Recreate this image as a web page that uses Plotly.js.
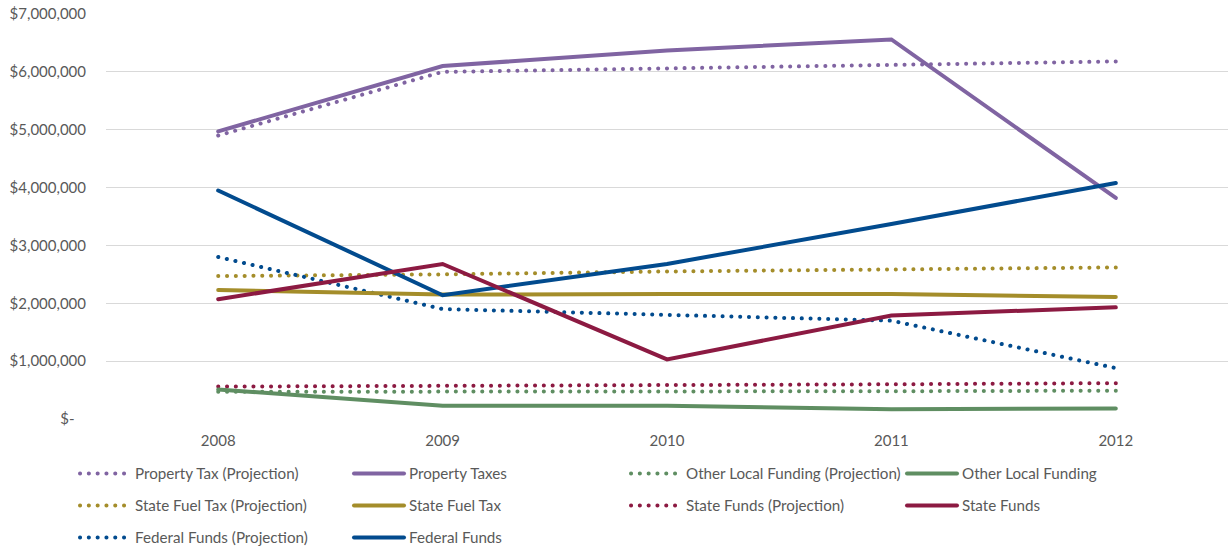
<!DOCTYPE html>
<html>
<head>
<meta charset="utf-8">
<script src="https://cdn.plot.ly/plotly-3.0.1.min.js"></script>
<style>
html,body{margin:0;padding:0;background:#fff;}
#chart{width:1228px;height:548px;}
.scatterlayer path, .infolayer path { stroke-linecap: round; }
</style>
</head>
<body>
<div id="chart"></div>
<script>
const years = ['2008', '2009', '2010', '2011', '2012'];

const propertyTaxProjection = [4900000, 6000000, 6060000, 6120000, 6180000];
const propertyTaxes = [4970000, 6100000, 6370000, 6560000, 3820000];
const otherLocalProjection = [470000, 470000, 480000, 480000, 490000];
const otherLocalFunding = [510000, 230000, 230000, 170000, 180000];
const stateFuelTaxProjection = [2470000, 2500000, 2550000, 2590000, 2620000];
const stateFuelTax = [2230000, 2150000, 2160000, 2160000, 2110000];
const stateFundsProjection = [560000, 570000, 590000, 600000, 620000];
const stateFunds = [2070000, 2680000, 1030000, 1790000, 1930000];
const federalFundsProjection = [2800000, 1900000, 1800000, 1700000, 880000];
const federalFunds = [3950000, 2140000, 2680000, 3370000, 4080000];

const yTickVals = [0, 1000000, 2000000, 3000000, 4000000, 5000000, 6000000, 7000000];
const yTickText = ['$-\u00a0\u00a0\u00a0', '$1,000,000', '$2,000,000', '$3,000,000', '$4,000,000', '$5,000,000', '$6,000,000', '$7,000,000'];

const purple = '#8064A2', green = '#5F8E62', gold = '#A48D2A', maroon = '#8C1A42', blue = '#024B8E';

function proj(name, y, color, legend) {
  return {type: 'scatter', mode: 'lines', name: name, x: years, y: y, legend: legend, legendgroup: name,
    line: {color: color, width: 4, dash: '0.1px,8.7px'}, hoverinfo: 'name+y'};
}
function solid(name, y, color, legend) {
  return {type: 'scatter', mode: 'lines', name: name, x: years, y: y, legend: legend, legendgroup: name,
    line: {color: color, width: 4}, hoverinfo: 'name+y'};
}

const data = [
  proj('Property Tax (Projection)', propertyTaxProjection, purple, 'legend'),
  proj('State Fuel Tax (Projection)', stateFuelTaxProjection, gold, 'legend'),
  proj('Federal Funds (Projection)', federalFundsProjection, blue, 'legend'),
  solid('Property Taxes', propertyTaxes, purple, 'legend2'),
  solid('State Fuel Tax', stateFuelTax, gold, 'legend2'),
  solid('Federal Funds', federalFunds, blue, 'legend2'),
  proj('Other Local Funding (Projection)', otherLocalProjection, green, 'legend3'),
  proj('State Funds (Projection)', stateFundsProjection, maroon, 'legend3'),
  solid('Other Local Funding', otherLocalFunding, green, 'legend4'),
  solid('State Funds', stateFunds, maroon, 'legend4')
];

const plotW = 1122, plotH = 405;
function px(v){ return (v - 106) / plotW; }
function py(v){ return (419 - v) / plotH; }
const legFont = {family: 'Lato, "Open Sans", sans-serif', size: 15.2, color: '#595959'};
function leg(xpx) {
  return {x: px(xpx), y: py(457), xanchor: 'left', yanchor: 'top', orientation: 'v',
    font: legFont, bgcolor: 'rgba(0,0,0,0)', borderwidth: 0, tracegroupgap: 9.3, itemwidth: 50, itemclick: false, itemdoubleclick: false};
}

const layout = {
  width: 1228, height: 548,
  margin: {l: 106, r: 0, t: 14, b: 129, autoexpand: false},
  paper_bgcolor: '#ffffff', plot_bgcolor: '#ffffff',
  font: {family: 'Lato, "Open Sans", sans-serif', size: 15, color: '#595959'},
  showlegend: true,
  xaxis: {type: 'category', range: [-0.5, 4.5], showgrid: false, zeroline: false, showline: false,
    ticks: '', tickfont: {size: 15, color: '#595959'}, ticklabelstandoff: 11, fixedrange: true, automargin: false},
  yaxis: {range: [0, 7000000], tickvals: yTickVals, ticktext: yTickText, showgrid: true,
    gridcolor: '#D9D9D9', gridwidth: 1.2, zeroline: false, showline: false, ticks: '',
    tickfont: {size: 15, color: '#595959'}, ticklabelstandoff: 19, fixedrange: true, automargin: false},
  legend: leg(75),
  legend2: leg(349),
  legend3: leg(626),
  legend4: leg(902)
};

Plotly.newPlot('chart', data, layout, {displayModeBar: false});
</script>
</body>
</html>
